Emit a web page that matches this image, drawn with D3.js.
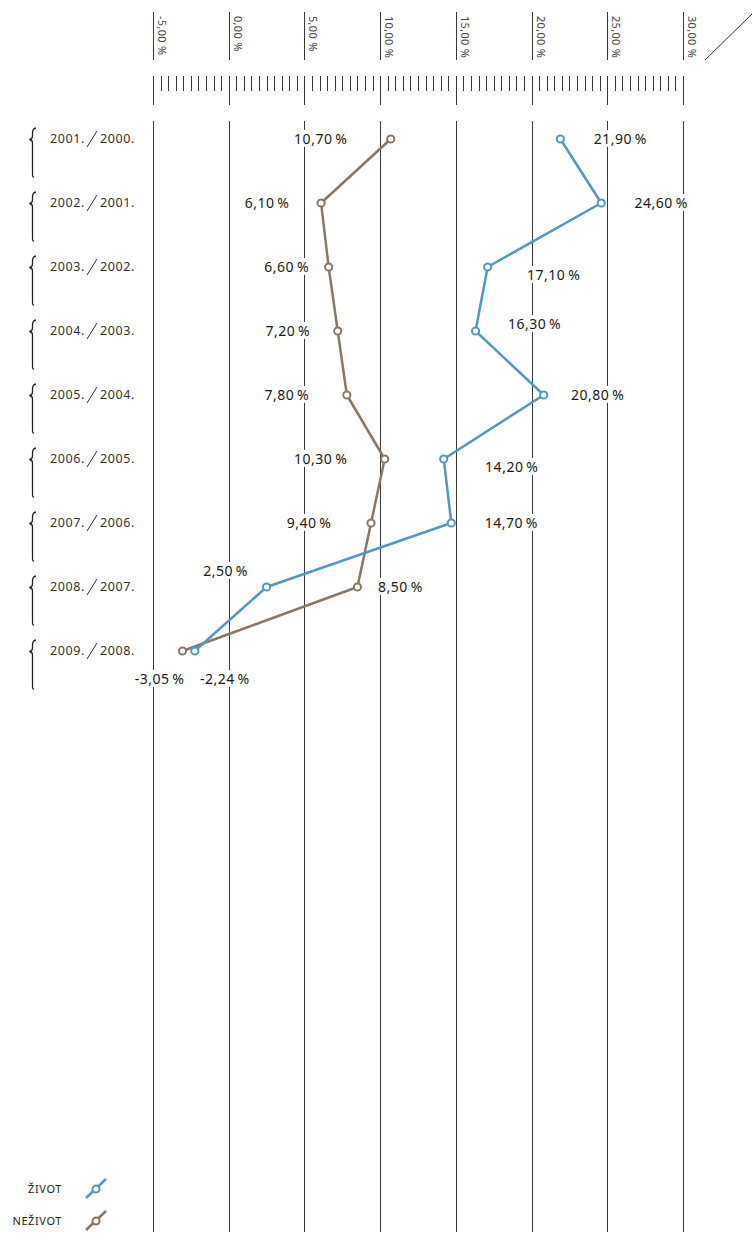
<!DOCTYPE html>
<html><head><meta charset="utf-8">
<script src="https://cdn.jsdelivr.net/npm/d3@7"></script>
<style>
html,body{margin:0;padding:0;background:#fff;}
text{font-family:"Noto Sans","Open Sans",sans-serif;}
</style></head>
<body>
<script>
// ---- data ----
const periods = [["2001.","2000."],["2002.","2001."],["2003.","2002."],["2004.","2003."],["2005.","2004."],["2006.","2005."],["2007.","2006."],["2008.","2007."],["2009.","2008."]];
const zivot   = [21.90, 24.60, 17.10, 16.30, 20.80, 14.20, 14.70, 2.50, -2.24];
const nezivot = [10.70, 6.10, 6.60, 7.20, 7.80, 10.30, 9.40, 8.50, -3.05];
const tickValues = [-5, 0, 5, 10, 15, 20, 25, 30];
const tickLabels = ["-5,00 %","0,00 %","5,00 %","10,00 %","15,00 %","20,00 %","25,00 %","30,00 %"];
const seriesNames = ["ŽIVOT","NEŽIVOT"];
// label placement offsets (px) relative to each point
const zivotLabelOffsets   = [[60,0],[60,0],[66,8],[59,-7],[54,0],[68,8],[60,0],[-41,-16],[30,28]];
const nezivotLabelOffsets = [[-70,0],[-54,0],[-42,0],[-50,0],[-60,0],[-64,0],[-62,0],[43,0],[-23,28]];

const W = 753, H = 1240;
const blue = "#5299bf", brown = "#8a7765";
const fmt = v => d3.format(".2f")(v).replace("\u2212", "-").replace(".", ",") + "\u2009%";

const svg = d3.select("body").append("svg").attr("width", W).attr("height", H);

const xScale = d3.scaleLinear().domain([-5, 30]).range([153, 683]);
const yScale = d3.scalePoint().domain(d3.range(periods.length)).range([139, 651]);

// vertical grid lines
svg.append("g").selectAll("line").data(tickValues).join("line")
  .attr("x1", d => Math.round(xScale(d)) + 0.5).attr("x2", d => Math.round(xScale(d)) + 0.5)
  .attr("y1", 121).attr("y2", 1232)
  .attr("stroke", "#3a3a3a").attr("stroke-width", 1);

// top axis: major tick lines with rotated labels
const topAxis = svg.append("g");
topAxis.selectAll("line").data(tickValues).join("line")
  .attr("x1", d => Math.round(xScale(d)) + 0.5).attr("x2", d => Math.round(xScale(d)) + 0.5)
  .attr("y1", 12).attr("y2", 60).attr("stroke", "#3a3a3a");
topAxis.selectAll("text").data(tickValues).join("text")
  .attr("transform", d => `translate(${Math.round(xScale(d)) + 5},16) rotate(90)`)
  .attr("font-size", 11).attr("fill", "#444").attr("letter-spacing", 0.3)
  .text((d, i) => tickLabels[i]);
topAxis.append("line").attr("x1", 705).attr("y1", 60).attr("x2", 752).attr("y2", 14)
  .attr("stroke", "#333").attr("stroke-width", 1);

// ruler
const minor = d3.range(-5, 30.001, 0.5);
svg.append("g").selectAll("line").data(minor).join("line")
  .attr("x1", d => Math.round(xScale(d)) + 0.5).attr("x2", d => Math.round(xScale(d)) + 0.5)
  .attr("y1", 76)
  .attr("y2", d => (Math.abs(d % 5) < 1e-9) ? 105 : 91)
  .attr("stroke", "#3a3a3a");

// period labels with braces
const rows = svg.append("g");
periods.forEach((p, i) => {
  const cy = yScale(i);
  rows.append("path")
    .attr("d", `M36,${cy-11} Q32.5,${cy-10.5} 32.5,${cy-6} L32.5,${cy-3} Q32.5,${cy} 29.5,${cy+0.5} Q32.5,${cy+1} 32.5,${cy+4} L32.5,${cy+36} Q32.5,${cy+38} 34,${cy+38.5}`)
    .attr("fill", "none").attr("stroke", "#222").attr("stroke-width", 1.3);
  rows.append("text").attr("x", 50).attr("y", cy).attr("dy", "0.35em")
    .attr("font-size", 12.5).attr("letter-spacing", 0.6).attr("fill", "#333").text(p[0]);
  rows.append("line").attr("x1", 87).attr("y1", cy + 8).attr("x2", 97).attr("y2", cy - 8)
    .attr("stroke", "#333").attr("stroke-width", 1);
  rows.append("text").attr("x", 100).attr("y", cy).attr("dy", "0.35em")
    .attr("font-size", 12.5).attr("letter-spacing", 0.6).attr("fill", "#333").text(p[1]);
});

// series
const line = d3.line().x(d => xScale(d[0])).y(d => yScale(d[1]));
function drawSeries(vals, color) {
  const pts = vals.map((v, i) => [v, i]);
  svg.append("path").datum(pts).attr("d", line)
    .attr("fill", "none").attr("stroke", color).attr("stroke-width", 2.5)
    .attr("stroke-linejoin", "round");
  svg.append("g").selectAll("circle").data(pts).join("circle")
    .attr("cx", d => xScale(d[0])).attr("cy", d => yScale(d[1])).attr("r", 3.6)
    .attr("fill", "#fff").attr("stroke", color).attr("stroke-width", 2);
}
drawSeries(nezivot, brown);
drawSeries(zivot, blue);

// labels
function drawLabels(vals, offs) {
  vals.forEach((v, i) => {
    const g = svg.append("g");
    const t = g.append("text")
      .attr("x", xScale(v) + offs[i][0]).attr("y", yScale(i) + offs[i][1]).attr("dy", "0.35em")
      .attr("text-anchor", "middle").attr("font-size", 14).attr("fill", "#1a1a1a")
      .attr("letter-spacing", 0.5)
      .text(fmt(v));
    const bb = t.node().getBBox();
    g.insert("rect", "text").attr("x", bb.x - 2).attr("y", bb.y + 1)
      .attr("width", bb.width + 4).attr("height", bb.height - 2).attr("fill", "#fff");
  });
}
drawLabels(zivot, zivotLabelOffsets);
drawLabels(nezivot, nezivotLabelOffsets);

// legend
const legend = svg.append("g");
[blue, brown].forEach((c, i) => {
  const cy = 1189 + i * 32;
  legend.append("text").attr("x", 62).attr("y", cy).attr("dy", "0.35em")
    .attr("text-anchor", "end").attr("font-size", 11).attr("fill", "#222")
    .attr("letter-spacing", 0.6).text(seriesNames[i]);
  legend.append("line").attr("x1", 86).attr("y1", cy + 9).attr("x2", 106).attr("y2", cy - 10)
    .attr("stroke", c).attr("stroke-width", 2.5);
  legend.append("circle").attr("cx", 96).attr("cy", cy).attr("r", 3.5)
    .attr("fill", "#fff").attr("stroke", c).attr("stroke-width", 2);
});
</script>
</body></html>
